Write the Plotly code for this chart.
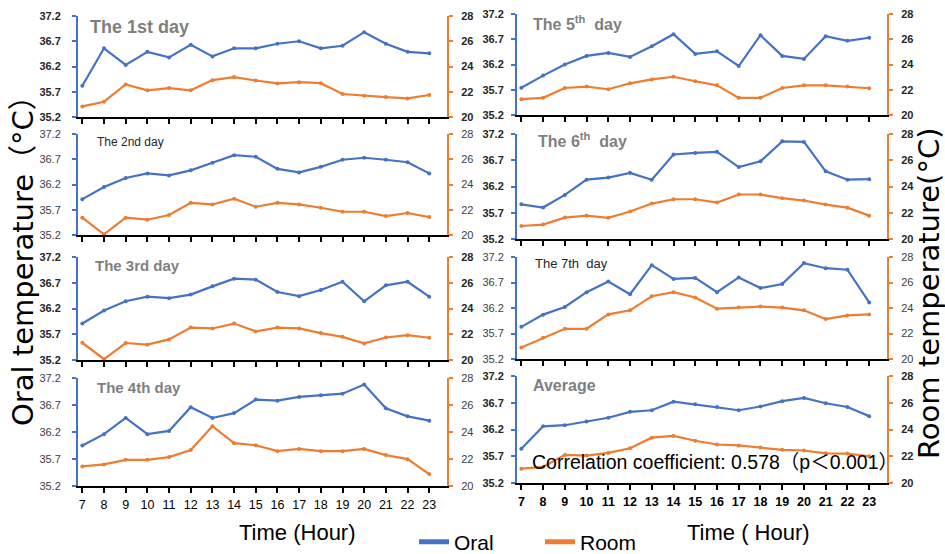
import plotly.graph_objects as go

hours = list(range(7, 24))
hour_labels = [str(h) for h in hours]

oral_day1 = [35.82, 36.56, 36.23, 36.49, 36.38, 36.63, 36.40, 36.56, 36.56, 36.65, 36.70, 36.56, 36.61, 36.88, 36.65, 36.49, 36.46]
room_day1 = [20.84, 21.21, 22.58, 22.11, 22.29, 22.11, 22.92, 23.16, 22.89, 22.66, 22.76, 22.68, 21.82, 21.68, 21.58, 21.47, 21.74]

oral_day2 = [35.91, 36.15, 36.33, 36.42, 36.38, 36.48, 36.63, 36.78, 36.75, 36.51, 36.44, 36.55, 36.69, 36.73, 36.69, 36.64, 36.42]
room_day2 = [21.37, 20.05, 21.37, 21.21, 21.58, 22.55, 22.42, 22.87, 22.24, 22.55, 22.42, 22.16, 21.84, 21.84, 21.50, 21.74, 21.42]

oral_day3 = [35.91, 36.16, 36.34, 36.43, 36.40, 36.47, 36.63, 36.78, 36.76, 36.52, 36.44, 36.56, 36.72, 36.34, 36.65, 36.72, 36.43]
room_day3 = [21.34, 20.06, 21.32, 21.19, 21.60, 22.52, 22.45, 22.83, 22.22, 22.52, 22.45, 22.09, 21.80, 21.29, 21.75, 21.93, 21.73]

oral_day4 = [35.95, 36.16, 36.46, 36.16, 36.22, 36.66, 36.46, 36.55, 36.80, 36.78, 36.85, 36.88, 36.91, 37.08, 36.64, 36.49, 36.41]
room_day4 = [21.45, 21.60, 21.94, 21.94, 22.14, 22.66, 24.43, 23.17, 23.02, 22.58, 22.75, 22.58, 22.58, 22.75, 22.29, 21.99, 20.88]

oral_day5 = [35.74, 35.98, 36.20, 36.37, 36.43, 36.35, 36.56, 36.80, 36.41, 36.46, 36.17, 36.78, 36.37, 36.31, 36.76, 36.67, 36.73]
room_day5 = [21.25, 21.36, 22.14, 22.25, 22.04, 22.51, 22.82, 23.03, 22.67, 22.35, 21.36, 21.36, 22.14, 22.35, 22.35, 22.25, 22.12]

oral_day6 = [35.86, 35.80, 36.04, 36.33, 36.37, 36.46, 36.33, 36.81, 36.84, 36.86, 36.57, 36.68, 37.06, 37.05, 36.49, 36.33, 36.34]
room_day6 = [20.99, 21.10, 21.63, 21.78, 21.61, 22.09, 22.70, 23.03, 23.03, 22.78, 23.39, 23.39, 23.11, 22.93, 22.62, 22.39, 21.78]

oral_day7 = [35.83, 36.07, 36.22, 36.51, 36.72, 36.47, 37.04, 36.77, 36.79, 36.51, 36.80, 36.59, 36.67, 37.08, 36.98, 36.95, 36.31]
room_day7 = [20.90, 21.66, 22.37, 22.37, 23.50, 23.82, 24.92, 25.24, 24.82, 23.95, 24.03, 24.11, 24.03, 23.82, 23.13, 23.42, 23.50]

oral_avg = [35.84, 36.26, 36.28, 36.35, 36.42, 36.53, 36.56, 36.72, 36.67, 36.62, 36.56, 36.63, 36.73, 36.79, 36.69, 36.62, 36.45]
room_avg = [21.07, 21.20, 22.10, 22.05, 22.25, 22.60, 23.39, 23.52, 23.16, 22.88, 22.81, 22.66, 22.48, 22.43, 22.22, 22.20, 22.00]

oral_ticks = [35.2, 35.7, 36.2, 36.7, 37.2]
room_ticks = [20, 22, 24, 26, 28]

BLUE = "#4472C4"
ORANGE = "#ED7D31"
GRAY = "#7F7F7F"
W, H = 945, 554
SANS = "Liberation Sans, Arial, sans-serif"

# (oral, room, title, title style, x-domain px, y px top/bottom, title pos px, title size, bold tick labels)
panels = [
    (oral_day1, room_day1, "The 1st day", "big", (78, 447), (16, 117), (88, 27), 18, True),
    (oral_day2, room_day2, "The 2nd day", "small", (78, 447), (134, 235), (95, 142), 12, False),
    (oral_day3, room_day3, "The 3rd day", "big", (78, 447), (257, 360), (93, 266), 15, True),
    (oral_day4, room_day4, "The 4th day", "big", (78, 447), (378, 486), (95, 387), 15, False),
    (oral_day5, room_day5, "The 5<sup>th</sup>  day", "big", (517, 887), (14, 115), (531, 23), 16, True),
    (oral_day6, room_day6, "The 6<sup>th</sup>  day", "big", (517, 887), (134, 239), (536, 140), 16, True),
    (oral_day7, room_day7, "The 7th  day", "small", (517, 887), (257, 359), (533, 263), 13, False),
    (oral_avg, room_avg, "Average", "big", (517, 887), (376, 483), (531, 385), 16, True),
]

fig = go.Figure()
layout = {}
annotations = []

for i, (oral, room, title, style, xd, yd, tpos, tsize, boldticks) in enumerate(panels):
    xn = i + 1
    yl = 2 * i + 1
    yr = 2 * i + 2
    xname = "xaxis" if xn == 1 else f"xaxis{xn}"
    xref = "x" if xn == 1 else f"x{xn}"
    ylname = "yaxis" if yl == 1 else f"yaxis{yl}"
    ylref = "y" if yl == 1 else f"y{yl}"
    yrname = f"yaxis{yr}"
    yrref = f"y{yr}"
    bottom = i in (3, 7)
    yfont = dict(family=SANS, size=11, color="#262626" if boldticks else "#404040",
                 weight="bold" if boldticks else "normal")

    fig.add_trace(go.Scatter(x=hours, y=oral, xaxis=xref, yaxis=ylref, mode="lines+markers",
                             line=dict(color=BLUE, width=2.2), marker=dict(size=4, color=BLUE),
                             showlegend=False, name="Oral"))
    fig.add_trace(go.Scatter(x=hours, y=room, xaxis=xref, yaxis=yrref, mode="lines+markers",
                             line=dict(color=ORANGE, width=2.2), marker=dict(size=4, color=ORANGE),
                             showlegend=False, name="Room"))

    layout[xname] = dict(domain=[xd[0] / W, xd[1] / W], range=[6.8, 23.82], anchor=ylref,
                         showline=True, linecolor="black", linewidth=2, showgrid=False, zeroline=False,
                         ticks="outside", ticklen=5, tickwidth=1.5, tickcolor="black",
                         tickvals=hours, ticktext=hour_labels, showticklabels=bottom,
                         tickfont=dict(family=SANS, size=12.5, color="black",
                                       weight="bold" if i == 7 else "normal"),
                         ticklabelstandoff=1, automargin=False)
    layout[ylname] = dict(domain=[1 - yd[1] / H, 1 - yd[0] / H], range=[35.2, 37.2], anchor=xref,
                          tickvals=oral_ticks, ticktext=[f"{v:.1f}" for v in oral_ticks],
                          showline=True, linecolor=BLUE, linewidth=2, showgrid=False, zeroline=False,
                          ticks="outside", ticklen=4, tickcolor=BLUE, tickwidth=1.5,
                          tickfont=yfont, ticklabelstandoff=9 if xd[0] < 100 else 5, automargin=False)
    layout[yrname] = dict(range=[20, 28], overlaying=ylref, side="right", anchor=xref,
                          tickvals=room_ticks, showline=True, linecolor=ORANGE, linewidth=2,
                          showgrid=False, zeroline=False, ticks="outside", ticklen=4, tickcolor=ORANGE,
                          tickwidth=1.5, tickfont=yfont, ticklabelstandoff=6, automargin=False)

    if style == "big":
        font = dict(family=SANS, size=tsize, color=GRAY, weight="bold")
    else:
        font = dict(family=SANS, size=tsize, color="#262626")
    annotations.append(dict(text=title, x=tpos[0] / W, y=1 - tpos[1] / H, xref="paper", yref="paper",
                            xanchor="left", yanchor="middle", showarrow=False, font=font))

# legend-only entries
fig.add_trace(go.Scatter(x=[None], y=[None], mode="lines", line=dict(color=BLUE, width=5), name="Oral"))
fig.add_trace(go.Scatter(x=[None], y=[None], mode="lines", line=dict(color=ORANGE, width=5), name="Room"))

annotations += [
    dict(text="Oral temperature（°C）", x=23 / W, y=1 - 254 / H, textangle=-90,
         font=dict(family="DejaVu Sans, Noto Sans CJK JP, sans-serif", size=29, color="black")),
    dict(text="Room temperature(°C)", x=929 / W, y=1 - 294 / H, textangle=-90,
         font=dict(family="DejaVu Sans, sans-serif", size=29, color="black")),
    dict(text="Time (Hour)", x=297 / W, y=1 - 532 / H,
         font=dict(family=SANS, size=22, color="black")),
    dict(text="Time ( Hour)", x=748 / W, y=1 - 532 / H,
         font=dict(family=SANS, size=22, color="black")),
    dict(text="Correlation coefficient: 0.578（p＜0.001）", x=530 / W, y=1 - 462 / H, xanchor="left",
         font=dict(family="Liberation Sans, Arial, Noto Sans CJK JP, sans-serif", size=19.5, color="black")),
]
for a in annotations:
    a.setdefault("xref", "paper")
    a.setdefault("yref", "paper")
    a.setdefault("showarrow", False)
    a.setdefault("xanchor", "center")
    a.setdefault("yanchor", "middle")

fig.update_layout(
    width=W, height=H, margin=dict(l=0, r=0, t=0, b=0, pad=0, autoexpand=False),
    paper_bgcolor="white", plot_bgcolor="white",
    showlegend=True,
    legend=dict(orientation="h", x=414 / W, y=(H - 542) / H, xanchor="left", yanchor="middle",
                font=dict(family=SANS, size=21, color="black"), itemwidth=30, entrywidth=81,
                bgcolor="rgba(0,0,0,0)"),
    annotations=annotations,
    **layout,
)

fig.write_html("out.html", config={"displayModeBar": False},
               post_script="document.body.style.margin='0';document.body.style.overflow='hidden';")
